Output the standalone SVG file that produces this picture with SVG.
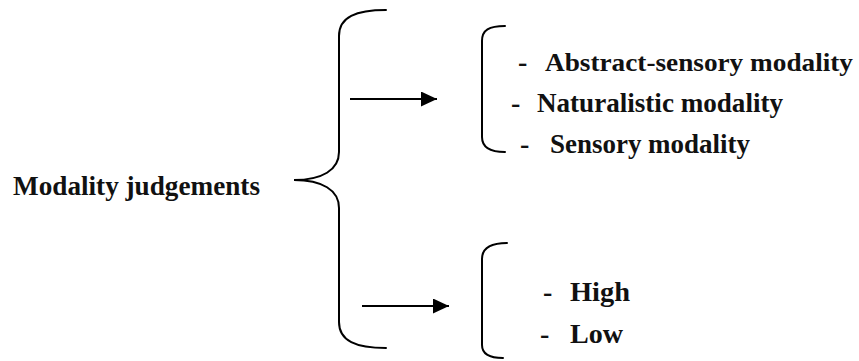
<svg xmlns="http://www.w3.org/2000/svg" width="859" height="361" viewBox="0 0 859 361">
  <style>
    .t { font-family: "Liberation Serif", "Times New Roman", serif; font-weight: bold; font-size: 28px; fill: #111; }
    .t.long { font-size: 26px; }
    .br { fill: none; stroke: #000; stroke-width: 2; stroke-linecap: round; }
    .ln { stroke: #000; stroke-width: 2; }
  </style>
  <defs>
    <marker id="head" markerWidth="16" markerHeight="15" refX="16" refY="7.5" orient="auto" markerUnits="userSpaceOnUse">
      <path d="M0,0 L16,7.5 L0,15 Z" fill="#000"/>
    </marker>
  </defs>
  <rect width="859" height="361" fill="#fff"/>

  <!-- root label -->
  <g id="root">
    <text class="t" x="13" y="195" textLength="247" lengthAdjust="spacingAndGlyphs">Modality judgements</text>
  </g>

  <!-- large curly brace splitting into two branches -->
  <g id="brace">
    <path class="br" d="M386,10 C356,10 339,17 339,36 L339,152 C339,170 322,180 294,180 C322,180 339,190 339,208 L339,322 C339,341 356,348 386,348"/>
  </g>

  <g id="connectors">
    <line class="ln" x1="350" y1="99" x2="437" y2="99" marker-end="url(#head)"/>
    <line class="ln" x1="362" y1="306" x2="449" y2="306" marker-end="url(#head)"/>
  </g>

  <!-- first branch: modality types -->
  <g id="types">
    <path class="br" d="M505,26 C489,26 482,30 482,41 L482,137 C482,147 489,152 505,152"/>
    <text class="t" x="518" y="71">-</text>
    <text class="t long" x="545" y="71" textLength="308" lengthAdjust="spacingAndGlyphs">Abstract-sensory modality</text>
    <text class="t" x="511" y="112">-</text>
    <text class="t" x="537" y="112" textLength="246" lengthAdjust="spacingAndGlyphs">Naturalistic modality</text>
    <text class="t" x="520" y="153">-</text>
    <text class="t" x="550" y="153" textLength="200" lengthAdjust="spacingAndGlyphs">Sensory modality</text>
  </g>

  <!-- second branch: modality levels -->
  <g id="levels">
    <path class="br" d="M507,243 C490,243 482,248 482,259 L482,345 C482,354 489,358 503,358"/>
    <text class="t" x="543" y="301">-</text>
    <text class="t" x="570" y="301" textLength="60" lengthAdjust="spacingAndGlyphs">High</text>
    <text class="t" x="540" y="343">-</text>
    <text class="t" x="570" y="343" textLength="53" lengthAdjust="spacingAndGlyphs">Low</text>
  </g>
</svg>
